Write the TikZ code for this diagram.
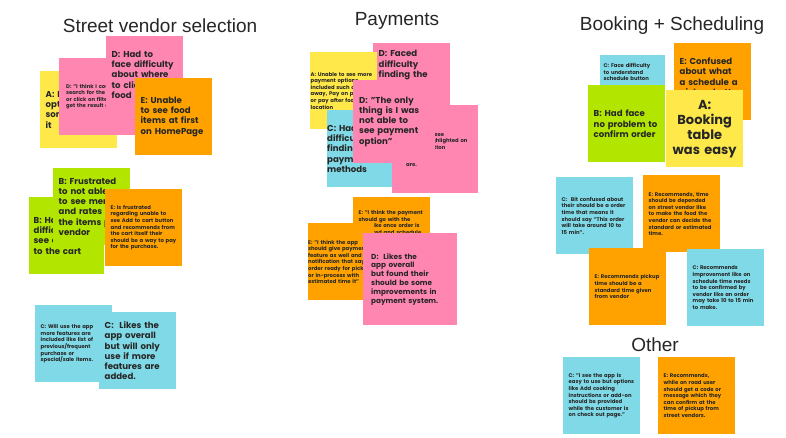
\documentclass[tikz,border=0pt]{standalone}
\usepackage{fontspec}
\setmainfont{Poppins}
\newfontfamily\titlefont{Liberation Sans}
\definecolor{noteyellow}{HTML}{FFE94A}
\definecolor{notepink}{HTML}{FF86B0}
\definecolor{noteorange}{HTML}{FFA200}
\definecolor{notegreen}{HTML}{B2E600}
\definecolor{notecyan}{HTML}{80D9E6}
\newcommand\nohyph{\hyphenpenalty=10000\exhyphenpenalty=10000\relax}
\tikzset{
  note/.style={anchor=north west, fill=#1, minimum width=77pt, minimum height=77pt,
    text width=66pt, align=left, inner sep=0pt, text=black!85,
    font=\nohyph\bfseries\fontsize{5.3}{6.6}\selectfont},
  bignote/.style={note=#1, font=\nohyph\bfseries\fontsize{8.6}{10.2}\selectfont},
  heading/.style={font=\titlefont\fontsize{19}{22}\selectfont, text=black!85}
}
\begin{document}
\begin{tikzpicture}[x=1pt,y=-1pt]
\useasboundingbox[fill=white] (0,0) rectangle (786,437);
% titles
\node[heading] (t1) at (160,26) {Street vendor selection};
\node[heading] (t2) at (397,21) {Payments};
\node[heading] (t3) at (672,26) {Booking + Scheduling};
\node[heading] (t4) at (655,345) {Other};

% street vendor selection
\node[bignote=noteyellow] (sa) at (40,71) {A: Had option to say something to it};
\node[note=notepink, minimum width=76pt, text width=62pt] (sd1) at (59,58) {D: "I think I could search for the food or click on filters to get the result of food"};
\node[bignote=notepink] (sd2) at (106,36) {D: Had to face difficulty about where to click for food};
\node[bignote=noteorange] (se1) at (135,78) {E: Unable to see food items at first on HomePage};
\node[bignote=notegreen, minimum width=75pt] (sb1) at (29,197) {B: Had difficulty to see add item to the cart};
\node[bignote=notegreen] (sb2) at (53,168) {B: Frustrated to not able to see menu and rates of the items per vendor};
\node[note=noteorange] (se2) at (105,189) {E: Is frustrated regarding unable to see Add to cart button and recommends from the cart itself their should be a way to pay for the purchase.};
\node[note=notecyan] (sc1) at (35,305) {C: Will use the app more features are included like list of previous/frequent purchase or special/sale items.};
\node[bignote=notecyan] (sc2) at (99,312) {C:\ \ Likes the app overall but will only use if more features are added.};

% payments
\node[bignote=notepink] (pd1) at (373,43) {D: Faced difficulty finding the payment\\ \rule{0pt}{22pt}};
\node[note=noteyellow, minimum width=67pt] (pa) at (310,52) {A: Unable to see more payment options included such as cash away, Pay on pickup or pay after food at location};
\node[bignote=notecyan, minimum width=66pt] (pc) at (327,110) {C: Had difficulty finding more payment methods};
\node[note=notepink, minimum width=86pt, minimum height=88pt, text width=70pt] (pd2) at (392,105) {E: Unable to see payment highlighted on schedule button\\[10pt] \hspace*{6pt}are.};
\node[bignote=notepink, minimum width=82pt, minimum height=83pt, text width=70pt] (pd3) at (353,80) {D: "The only thing is I was not able to see payment option"};
\node[note=noteorange] (pe1) at (353,197) {E: "I think the payment should go with the flow like once order is selected and schedule time is added the payment page should appear after it and order confirm"};
\node[note=noteorange, minimum width=60pt] (pe2) at (308,223) {E: "I think the app should give payment feature as well and a notification that says order ready for pickup or in-process with estimated time it"};
\node[bignote=notepink, minimum width=94pt, minimum height=92pt, text width=78pt, font=\nohyph\bfseries\fontsize{7.3}{8.8}\selectfont] (pd4) at (363,233) {D:\ \ Likes the app overall but found their should be some improvements in payment system.};

% booking + scheduling
\node[note=notecyan, minimum width=65pt, text width=58pt] (bc1) at (600,55) {C: Face difficulty to understand schedule button\\ \rule{0pt}{42pt}};
\node[bignote=noteorange] (be1) at (674,43) {E: Confused about what a schedule a pickup button does};
\node[bignote=notegreen] (bb) at (588,85) {B: Had face no problem to confirm order};
\node[bignote=noteyellow, align=center, font=\bfseries\fontsize{13}{15}\selectfont] (ba) at (666,90) {A:\\ Booking table was easy};
\node[note=notecyan] (bc2) at (556,177) {C:\ \ Bit confused about their should be a order time that means it should say "This order will take around 10 to 15 min".};
\node[note=noteorange] (be2) at (643,175) {E: Recommends, time should be depended on street vendor like to make the food the vendor can decide the standard or estimated time.};
\node[note=noteorange] (be3) at (589,248) {E: Recommends pickup time should be a standard time given from vendor};
\node[note=notecyan] (bc3) at (687,249) {C: Recommends improvement like on schedule time needs to be confirmed by vendor like an order may take 10 to 15 min to make.};

% other
\node[note=notecyan] (oc) at (563,357) {C: "I see the app is easy to use but options like Add cooking instructions or add-on should be provided while the customer is on check out page."};
\node[note=noteorange] (oe) at (658,357) {E: Recommends, while on road user should get a code or message which they can confirm at the time of pickup from street vendors.};
\end{tikzpicture}
\end{document}
